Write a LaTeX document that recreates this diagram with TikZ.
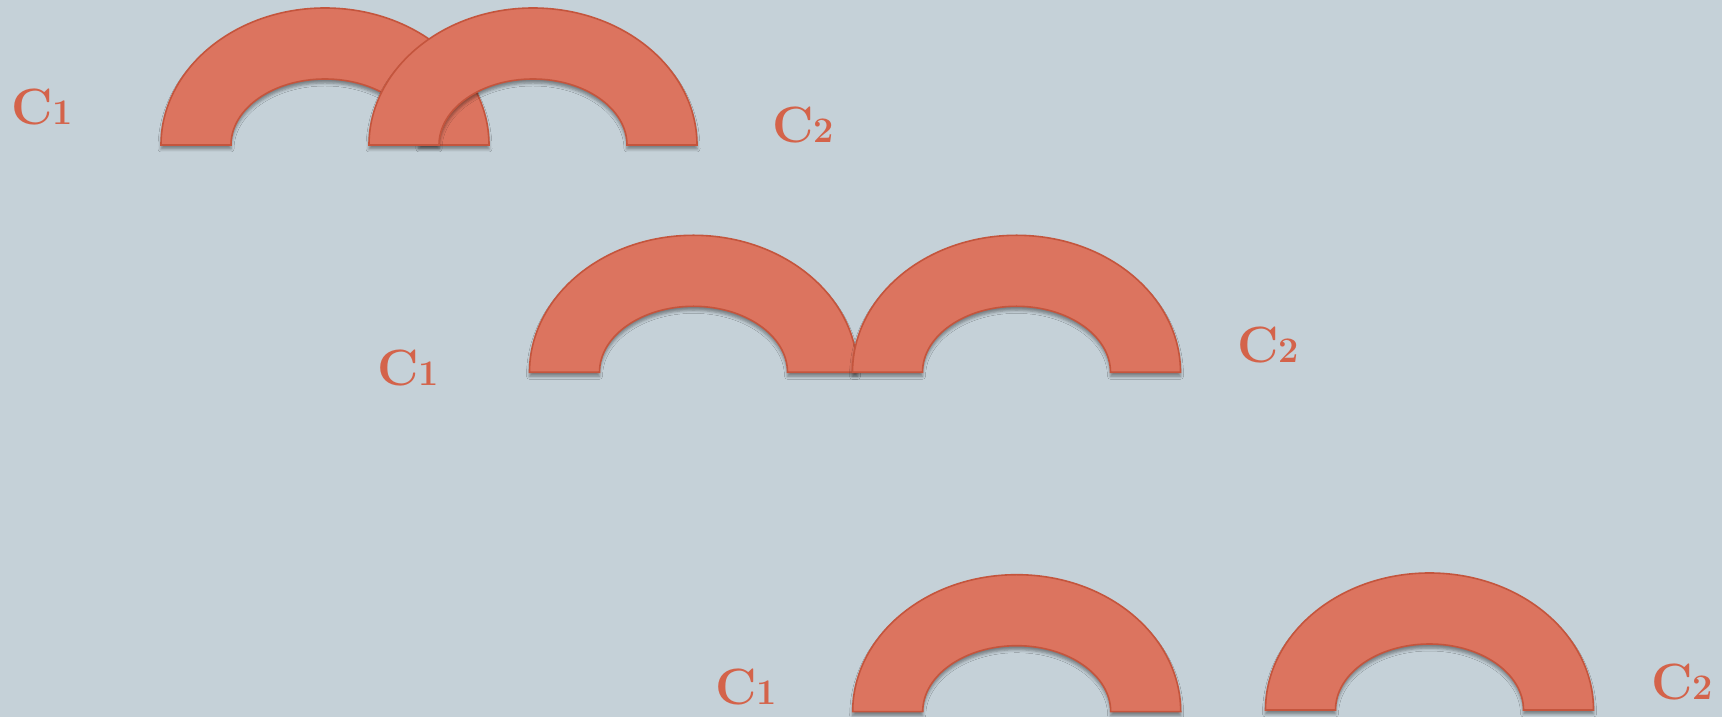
\documentclass[tikz,border=0pt]{standalone}
\usetikzlibrary{shadows.blur}
\definecolor{bgc}{HTML}{C5D1D8}
\definecolor{arcfill}{HTML}{DC745F}
\definecolor{arcline}{HTML}{C4553D}
\definecolor{labc}{HTML}{D4634A}
\newcommand\osdigit[1]{{\fontsize{36}{36}\selectfont #1}}
\tikzset{
  arcshape/.style={fill=arcfill, draw=arcline, line width=1.6pt,
    blur shadow={shadow xshift=0pt, shadow yshift=-4pt, shadow blur radius=3pt, shadow opacity=40}},
  blockarc/.pic={
    \path[arcshape] (-164,0) arc[start angle=180,end angle=0,x radius=164,y radius=137]
      -- (94,0) arc[start angle=0,end angle=180,x radius=94,y radius=66] -- cycle;
  },
  lab/.style={inner sep=0pt, anchor=base west, text=labc,
    font=\fontsize{51}{51}\selectfont\bfseries}
}
\begin{document}
\begin{tikzpicture}[x=1pt,y=1pt]
\fill[bgc] (0,0) rectangle (1722,717);
\useasboundingbox (0,0) rectangle (1722,717);
% row 1
\coordinate (a1) at (325,572);
\coordinate (b1) at (533,572);
\pic at (a1) {blockarc};
\pic at (b1) {blockarc};
\node[lab] (l1a) at (11,592) {C\osdigit{1}};
\node[lab] (l1b) at (772,574) {C\osdigit{2}};
% row 2
\coordinate (a2) at (693.5,344.7);
\coordinate (b2) at (1016.5,344.7);
\pic at (a2) {blockarc};
\pic at (b2) {blockarc};
\node[lab] (l2a) at (377,331) {C\osdigit{1}};
\node[lab] (l2b) at (1237,354) {C\osdigit{2}};
% row 3
\coordinate (a3) at (1016.7,5.3);
\coordinate (b3) at (1429.5,7);
\pic at (a3) {blockarc};
\pic at (b3) {blockarc};
\node[lab] (l3a) at (715,12) {C\osdigit{1}};
\node[lab] (l3b) at (1651,17) {C\osdigit{2}};
\end{tikzpicture}
\end{document}
